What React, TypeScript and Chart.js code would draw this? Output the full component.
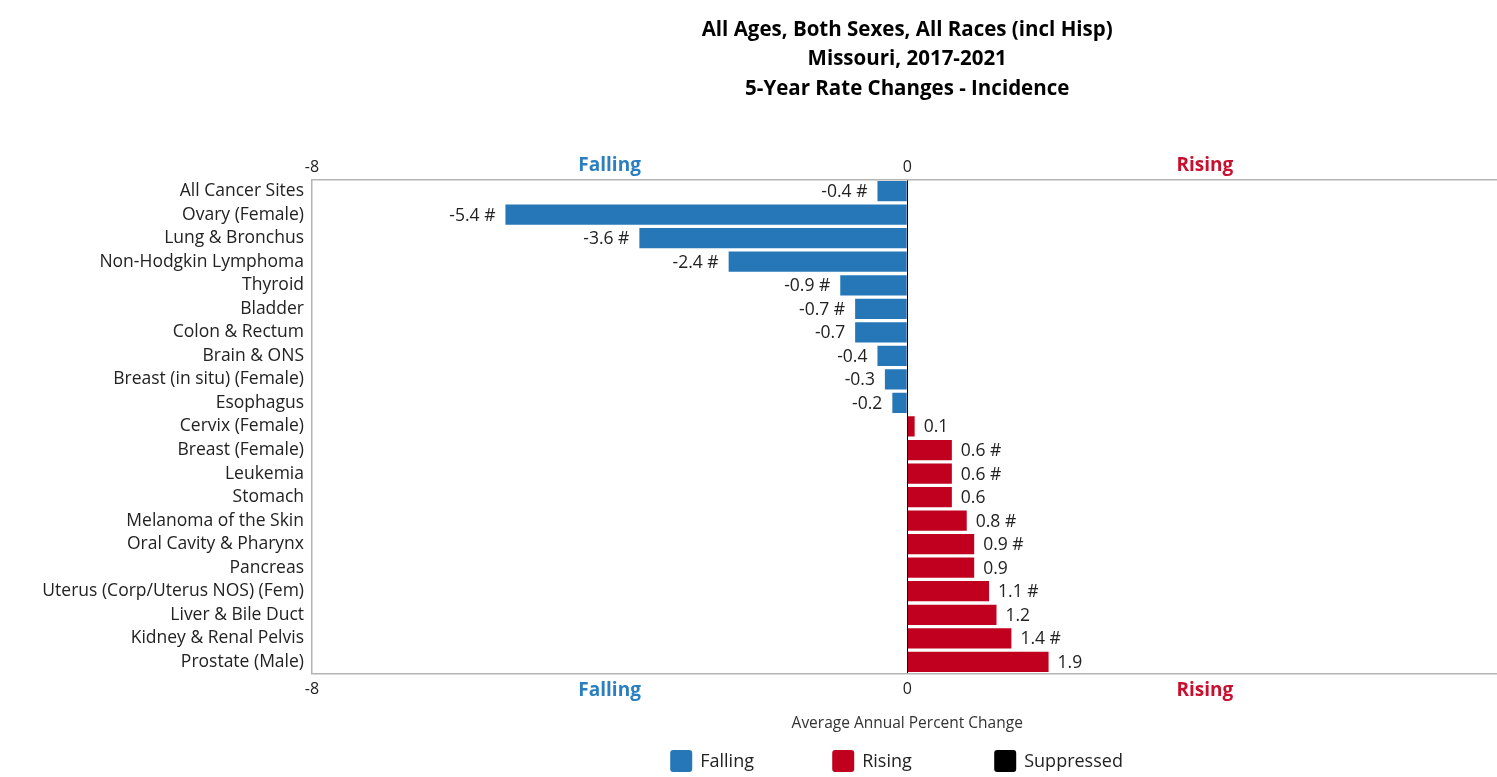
import React, { useEffect, useRef } from "react";
import { Chart, registerables } from "chart.js";

Chart.register(...registerables);

const FONT = "'Open Sans', 'Noto Sans', sans-serif";

const categories = [
  "All Cancer Sites",
  "Ovary (Female)",
  "Lung & Bronchus",
  "Non-Hodgkin Lymphoma",
  "Thyroid",
  "Bladder",
  "Colon & Rectum",
  "Brain & ONS",
  "Breast (in situ) (Female)",
  "Esophagus",
  "Cervix (Female)",
  "Breast (Female)",
  "Leukemia",
  "Stomach",
  "Melanoma of the Skin",
  "Oral Cavity & Pharynx",
  "Pancreas",
  "Uterus (Corp/Uterus NOS) (Fem)",
  "Liver & Bile Duct",
  "Kidney & Renal Pelvis",
  "Prostate (Male)",
];

const values = [
  -0.4, -5.4, -3.6, -2.4, -0.9, -0.7, -0.7, -0.4, -0.3, -0.2, 0.1, 0.6, 0.6, 0.6,
  0.8, 0.9, 0.9, 1.1, 1.2, 1.4, 1.9,
];

const significant = [
  true, true, true, true, true, true, false, false, false, false, false, true,
  true, false, true, true, false, true, false, true, false,
];

const titleLines = [
  "All Ages, Both Sexes, All Races (incl Hisp)",
  "Missouri, 2017-2021",
  "5-Year Rate Changes - Incidence",
];

const axisTitle = "Average Annual Percent Change";

const tickValues = [-8, -4, 0, 4, 8];
const tickTexts = ["-8", "Falling", "0", "Rising", "8"];

const legendLabels = ["Falling", "Rising", "Suppressed"];

const BLUE = "#2577B8";
const RED = "#C0001E";
const legendColors = [BLUE, RED, "#000000"];

const tickColor = (v: number) =>
  v === -4 ? "#2B7FC0" : v === 4 ? "#C8102E" : "#222222";

const tickFont = (v: number) =>
  v === -4 || v === 4
    ? { family: FONT, size: 19, weight: "bold" as const }
    : { family: FONT, size: 16 };

const tickText = (v: number) => {
  const i = tickValues.indexOf(v);
  return i >= 0 ? tickTexts[i] : "";
};

const valueLabelPlugin = {
  id: "valueLabels",
  afterDatasetsDraw(chart: any) {
    const { ctx } = chart;
    const meta = chart.getDatasetMeta(0);
    ctx.save();
    ctx.font = `17.5px ${FONT}`;
    ctx.fillStyle = "#222222";
    ctx.textBaseline = "middle";
    meta.data.forEach((el: any, i: number) => {
      const v = values[i];
      const txt = v.toFixed(1) + (significant[i] ? " #" : "");
      if (v < 0) {
        ctx.textAlign = "right";
        ctx.fillText(txt, el.x - 10, el.y + 1);
      } else {
        ctx.textAlign = "left";
        ctx.fillText(txt, el.x + 9, el.y + 1);
      }
    });
    ctx.restore();
  },
};

const legendPlugin = {
  id: "customLegend",
  afterDraw(chart: any) {
    const { ctx, chartArea } = chart;
    const cx = (chartArea.left + chartArea.right) / 2;
    const y = chart.height - 16;
    let x = cx - 237;
    ctx.save();
    ctx.font = `18px ${FONT}`;
    ctx.textBaseline = "middle";
    ctx.textAlign = "left";
    legendLabels.forEach((lab, i) => {
      ctx.fillStyle = legendColors[i];
      ctx.beginPath();
      ctx.roundRect(x, y - 11, 22, 22, 3);
      ctx.fill();
      ctx.fillStyle = "#222222";
      ctx.fillText(lab, x + 30, y + 1);
      x += 162;
    });
    ctx.restore();
  },
};

export default function App() {
  const ref = useRef<HTMLCanvasElement | null>(null);

  useEffect(() => {
    if (!ref.current) return;
    const xScaleCommon = {
      type: "linear" as const,
      min: -8,
      max: 8,
      ticks: {
        stepSize: 4,
        autoSkip: false,
        maxRotation: 0,
        callback: (v: any) => tickText(Number(v)),
        color: (c: any) => tickColor(c.tick ? c.tick.value : 0),
        font: (c: any) => tickFont(c.tick ? c.tick.value : 0),
      },
      border: { display: true, color: "#B4B4B4", width: 1.5 },
    };
    const chart = new Chart(ref.current, {
      type: "bar",
      data: {
        labels: categories,
        datasets: [
          {
            label: "APC",
            data: values,
            backgroundColor: values.map((v) => (v < 0 ? BLUE : RED)),
            barPercentage: 0.86,
            categoryPercentage: 1,
            xAxisID: "x",
          },
        ],
      },
      options: {
        indexAxis: "y",
        responsive: false,
        animation: false,
        layout: { padding: { bottom: 44, top: 0, left: 0, right: 0 } },
        plugins: {
          legend: { display: false },
          tooltip: { enabled: false },
          title: {
            display: true,
            text: titleLines,
            fullSize: false,
            color: "#000000",
            font: { family: FONT, size: 20.5, weight: "bold", lineHeight: 1.44 },
            padding: { top: 7, bottom: 49 },
          },
        },
        scales: {
          x: {
            ...xScaleCommon,
            position: "bottom",
            ticks: { ...xScaleCommon.ticks, padding: 6 },
            grid: {
              display: true,
              drawTicks: false,
              color: (c: any) =>
                c.tick && c.tick.value === 0 ? "#000000" : "rgba(0,0,0,0)",
              lineWidth: 1,
            },
            title: {
              display: true,
              text: axisTitle,
              color: "#333333",
              font: { family: FONT, size: 15.5 },
              padding: { top: 6, bottom: 0 },
            },
          },
          x2: {
            ...xScaleCommon,
            position: "top",
            ticks: { ...xScaleCommon.ticks, padding: 2 },
            grid: { display: false, drawTicks: false },
          },
          y: {
            type: "category",
            position: "left",
            grid: { display: false, drawTicks: false },
            border: { display: true, color: "#B4B4B4", width: 1.5 },
            ticks: {
              color: "#222222",
              font: { family: FONT, size: 17.5 },
              padding: 8,
              autoSkip: false,
            },
            afterFit: (scale: any) => {
              scale.width = 304;
            },
          },
        },
      },
      plugins: [valueLabelPlugin, legendPlugin],
    } as any);
    return () => chart.destroy();
  }, []);

  return (
    <div
      style={{
        position: "fixed",
        left: 8,
        top: 8,
        width: 1489,
        height: 769,
        overflow: "hidden",
      }}
    >
      <canvas
        ref={ref}
        width={1505}
        height={769}
        style={{ display: "block", width: 1505, height: 769 }}
      />
    </div>
  );
}
